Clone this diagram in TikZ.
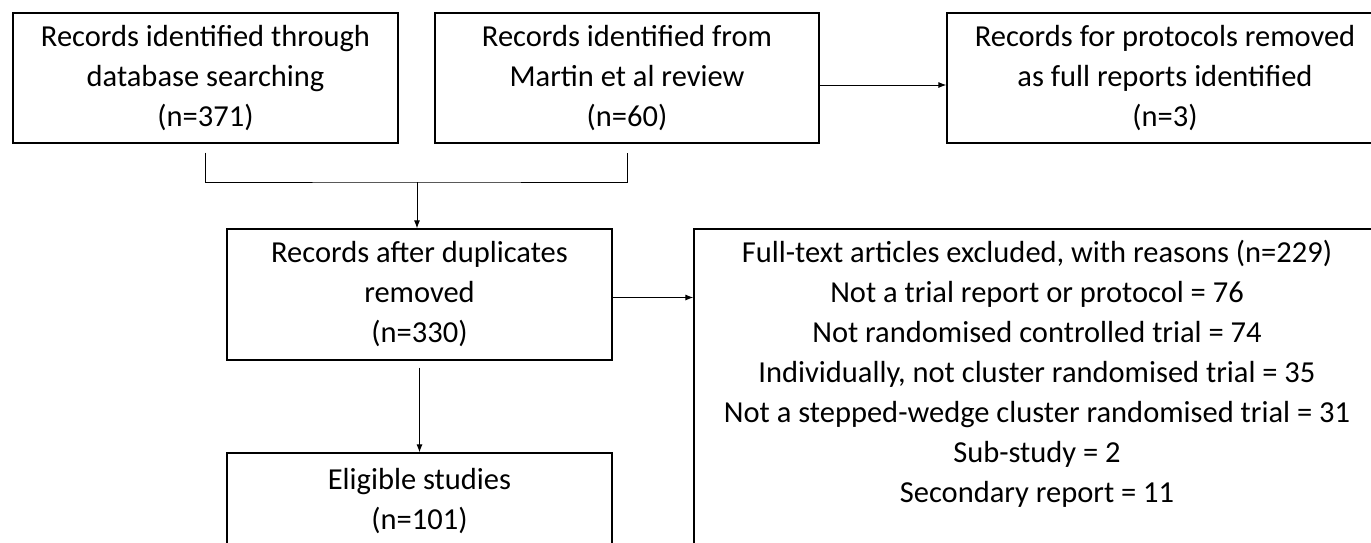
\documentclass[tikz,border=0pt]{standalone}
\usepackage{fontspec}
\setmainfont{Carlito}
\usetikzlibrary{arrows.meta}

\begin{document}
\begin{tikzpicture}[x=1pt,y=-1pt,
  box/.style={draw,line width=1.2pt,align=center,inner sep=0pt,font=\fontsize{30.5}{40}\selectfont},
  conn/.style={line width=1pt,-{Latex[length=8pt,width=6pt]}}]
\clip (0,0) rectangle (1371,542);
% top row
\node[box,minimum width=385pt,minimum height=130pt] (db) at (205.5,78) {Records identified through\\database searching\\(n=371)};
\node[box,minimum width=384pt,minimum height=130pt] (rev) at (627,78) {Records identified from\\Martin et al review\\(n=60)};
\node[box,minimum width=436pt,minimum height=130pt] (prot) at (1165,78) {Records for protocols removed\\as full reports identified\\(n=3)};
% middle and bottom
\node[box,minimum width=385pt,minimum height=131pt] (dup) at (419.5,294.5) {Records after duplicates\\removed\\(n=330)};
\node[box,minimum width=385pt,minimum height=96pt] (elig) at (419.5,501) {Eligible studies\\(n=101)};
\node[box,minimum width=686pt,minimum height=330pt] (excl) at (1037,394) {};
\node[align=center,inner sep=0pt,anchor=north,font=\fontsize{30.5}{40}\selectfont] (excltext) at ([yshift=-12pt]excl.north) {Full-text articles excluded, with reasons (n=229)\\Not a trial report or protocol = 76\\Not randomised controlled trial = 74\\Individually, not cluster randomised trial = 35\\Not a stepped-wedge cluster randomised trial = 31\\Sub-study = 2\\Secondary report = 11};
% connectors
\coordinate (merge) at (417,182);
\draw[line width=1pt] ([yshift=-9pt]db.south) |- (merge) -| ([yshift=-9pt]rev.south);
\draw[conn] (merge) -- (merge |- dup.north);
\draw[conn] ([yshift=-7pt]rev.east) -- ([yshift=-7pt]prot.west);
\draw[conn] ([yshift=-3pt]dup.east) -- ([yshift=-3pt]dup.east -| excl.west);
\draw[conn] ([yshift=-7pt]dup.south) -- (elig.north);
\end{tikzpicture}
\end{document}
